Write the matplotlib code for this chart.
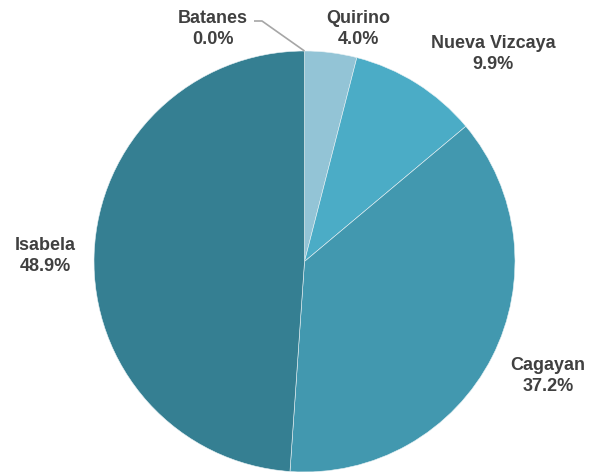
import matplotlib
matplotlib.use("Agg")
import matplotlib.pyplot as plt

categories = ["Batanes", "Quirino", "Nueva Vizcaya", "Cagayan", "Isabela"]
shares = [0.0, 4.0, 9.9, 37.2, 48.9]
colors = ["#8CC0D4", "#93C4D6", "#4BACC6", "#4298AF", "#357F92"]

# label centres in pixel coordinates (x, y from top)
label_pos = [(213, 29), (358, 29), (493, 54), (548, 376), (45, 256)]

W, H = 596, 472
fig = plt.figure(figsize=(W / 100, H / 100), dpi=100)
ax = fig.add_axes([0, 0, 1, 1])

cx, cy, r = 304.5, H - 261.5, 210.5
ax.pie(shares, colors=colors, startangle=90, counterclock=False,
       center=(cx, cy), radius=r, frame=True,
       wedgeprops=dict(edgecolor="#E8F2F5", linewidth=0.4))
ax.set_xlim(0, W)
ax.set_ylim(0, H)
ax.set_aspect("equal")
ax.axis("off")

for name, val, (x, y) in zip(categories, shares, label_pos):
    ax.text(x, H - y, f"{name}\n{val:.1f}%", ha="center", va="center",
            fontsize=13, fontweight="bold", color="#404040",
            family="Liberation Sans", linespacing=1.25)

# leader line for Batanes
ax.plot([254, 262, cx], [H - 21, H - 21, cy + r], color="#A6A6A6", lw=1.2,
        solid_capstyle="butt")

fig.savefig("out.png", dpi=100)
